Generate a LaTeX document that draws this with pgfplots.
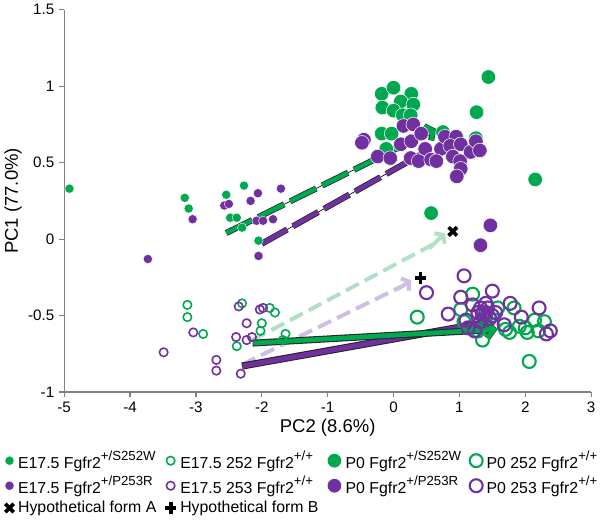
\documentclass[border=0pt]{standalone}
\usepackage{fontspec}
\setmainfont{Liberation Sans}
\usepackage{pgfplots}
\pgfplotsset{compat=1.18}
\usetikzlibrary{arrows.meta}
\definecolor{pg}{RGB}{0,168,80}
\definecolor{pp}{RGB}{112,48,160}
\definecolor{lg}{RGB}{176,224,198}
\definecolor{lp}{RGB}{206,190,228}
\definecolor{axg}{RGB}{128,128,128}
\newcommand{\sps}[1]{\raisebox{0.9ex}{\fontsize{10}{12}\selectfont #1}}
\pgfplotsset{
  leg/.style={legend image code/.code={\draw[##1] plot coordinates {(0.12cm,0cm)};}},
  sf/.style={only marks, mark=*, mark size=3.5pt, mark options={fill=#1, draw=white, line width=0.3pt}, leg},
  so/.style={only marks, mark=o, mark size=3.2pt, mark options={draw=#1, line width=1.2pt, fill=none}, leg},
  bf/.style={only marks, mark=*, mark size=5.5pt, mark options={fill=#1, draw=white, line width=0.4pt}, leg},
  bo/.style={only marks, mark=o, mark size=4.9pt, mark options={draw=#1, line width=1.6pt, fill=none}, leg},
}
\begin{document}
\begin{tikzpicture}
\begin{axis}[
  width=399pt, height=289.5pt, scale only axis,
  xmin=-5, xmax=3, ymin=-1, ymax=1.5,
  xtick={-5,-4,-3,-2,-1,0,1,2,3},
  ytick={-1,-0.5,0,0.5,1,1.5},
  axis x line*=bottom, axis y line*=left,
  axis line style={draw=axg, line width=0.9pt},
  tick style={draw=axg, line width=0.9pt},
  tick align=outside, major tick length=4pt,
  tick label style={font=\fontsize{11.5}{13}\selectfont},
  /pgf/number format/assume math mode=true,
  xlabel={PC2 (8.6\%)}, ylabel={PC1 (77.0\%)},
  label style={font=\fontsize{14}{16}\selectfont},
  xlabel style={yshift=2pt},
  ylabel style={yshift=-2pt},
  clip=false,
  legend columns=4,
  legend cell align=left,
  legend style={at={(-0.113,-0.14)}, anchor=north west, draw=none, fill=none,
    font=\fontsize{12}{14}\selectfont, row sep=0.5pt, inner xsep=0pt,
    /tikz/every odd column/.append style={column sep=1pt},
    /tikz/every even column/.append style={column sep=4.5pt}},
]
% E17.5 S252W
\addplot[sf=pg] coordinates {(-4.92,0.33) (-3.17,0.27) (-3.11,0.20) (-2.54,0.29) (-2.27,0.35) (-2.48,0.14) (-2.38,0.14) (-2.30,0.075) (-2.05,-0.01)};
\addlegendentry{E17.5 Fgfr2\sps{+/S252W}}
% E17.5 252 WT
\addplot[so=pg] coordinates {(-3.13,-0.43) (-3.13,-0.51) (-2.89,-0.62) (-2.30,-0.42) (-1.88,-0.45) (-1.80,-0.48) (-2.00,-0.55) (-2.02,-0.60) (-2.38,-0.70) (-1.64,-0.62) (-1.68,-0.66)};
\addlegendentry{E17.5 252 Fgfr2\sps{+/+}}
% P0 S252W
\addplot[bf=pg] coordinates {(1.44,1.06) (1.26,0.83) (2.15,0.39) (0.57,0.17) (-0.18,0.95) (0.00,0.99) (0.27,0.95) (0.11,0.90) (0.30,0.88) (-0.17,0.86) (0.00,0.84) (0.14,0.81) (0.26,0.81) (-0.18,0.69) (-0.03,0.69) (-0.11,0.59) (0.75,0.70) (1.25,0.66)};
\addlegendentry{P0 Fgfr2\sps{+/S252W}}
% P0 252 WT
\addplot[bo=pg] coordinates {(0.36,-0.51) (2.06,-0.80) (1.20,-0.36) (1.02,-0.46) (1.07,-0.54) (1.28,-0.60) (1.83,-0.45) (1.91,-0.57) (2.00,-0.58) (2.03,-0.61) (2.14,-0.53) (2.29,-0.54) (1.58,-0.45) (1.70,-0.59) (1.40,-0.51) (1.50,-0.56) (1.76,-0.61) (2.20,-0.60) (1.35,-0.66)};
\addlegendentry{P0 252 Fgfr2\sps{+/+}}
% E17.5 P253R
\addplot[sf=pp] coordinates {(-3.73,-0.13) (-3.05,0.13) (-2.57,0.22) (-2.50,0.23) (-2.17,0.25) (-2.06,0.30) (-1.71,0.33) (-2.08,0.12) (-1.98,0.12) (-1.83,0.13) (-2.05,-0.11)};
\addlegendentry{E17.5 Fgfr2\sps{+/P253R}}
% E17.5 253 WT
\addplot[so=pp] coordinates {(-3.49,-0.74) (-3.04,-0.61) (-2.69,-0.79) (-2.69,-0.86) (-2.32,-0.88) (-2.35,-0.44) (-2.03,-0.46) (-1.98,-0.45) (-2.23,-0.55) (-2.39,-0.64) (-2.23,-0.66) (-2.15,-0.64)};
\addlegendentry{E17.5 253 Fgfr2\sps{+/+}}
% P0 P253R
\addplot[bf=pp] coordinates {(-0.45,0.65) (-0.48,0.63) (0.15,0.74) (0.30,0.75) (0.11,0.62) (-0.24,0.54) (-0.05,0.53) (0.27,0.64) (0.26,0.53) (0.42,0.69) (0.48,0.59) (0.38,0.51) (0.57,0.52) (0.72,0.59) (0.78,0.67) (0.95,0.67) (0.86,0.61) (1.02,0.62) (0.90,0.54) (1.01,0.51) (1.02,0.46) (0.96,0.41) (1.17,0.57) (1.25,0.64) (1.31,0.58) (0.65,0.51) (1.47,0.09) (1.32,-0.04)};
\addlegendentry{P0 Fgfr2\sps{+/P253R}}
% P0 253 WT
\addplot[bo=pp] coordinates {(1.07,-0.24) (0.50,-0.35) (1.02,-0.38) (1.50,-0.34) (0.83,-0.49) (1.10,-0.53) (1.40,-0.42) (1.55,-0.48) (1.77,-0.42) (1.94,-0.51) (2.21,-0.45) (2.38,-0.60) (2.32,-0.62) (1.43,-0.45) (1.32,-0.54) (1.68,-0.56) (1.23,-0.60) (1.28,-0.48) (1.35,-0.49) (1.46,-0.52) (1.20,-0.43) (1.13,-0.58) (1.40,-0.48) (1.50,-0.50) (1.32,-0.45)};
\addlegendentry{P0 253 Fgfr2\sps{+/+}}
% light dashed arrows
\addplot[forget plot, draw=lg, line width=3pt, dash pattern=on 11pt off 5pt] coordinates {(-2.14,-0.66) (0.62,-0.03)};
\addplot[forget plot, draw=lg, line width=3pt, -{Straight Barb[length=4pt,width=11pt]}] coordinates {(0.55,-0.06) (0.78,0.04)};
\addplot[forget plot, draw=lp, line width=3pt, dash pattern=on 11pt off 5pt] coordinates {(-2.30,-0.82) (0.12,-0.31)};
\addplot[forget plot, draw=lp, line width=3pt, -{Straight Barb[length=4pt,width=11pt]}] coordinates {(0.05,-0.33) (0.27,-0.27)};
% solid arrows
\addplot[forget plot, draw=black!85, line width=5.4pt, -{Straight Barb[length=5pt,width=12pt]}] coordinates {(-2.30,-0.83) (1.47,-0.54)};
\addplot[forget plot, draw=pp, line width=3.8pt, -{Straight Barb[length=5pt,width=12pt]}] coordinates {(-2.29,-0.83) (1.46,-0.54)};
\addplot[forget plot, draw=black!85, line width=5.2pt, -{Straight Barb[length=5pt,width=12pt]}] coordinates {(-2.14,-0.68) (1.58,-0.59)};
\addplot[forget plot, draw=pg, line width=3.6pt, -{Straight Barb[length=5pt,width=12pt]}] coordinates {(-2.13,-0.68) (1.57,-0.59)};
% dashed outlined arrows
\addplot[forget plot, black, line width=0.5pt] coordinates {(-2.54,0.04) (0.65,0.72)};
\addplot[forget plot, draw=black!85, line width=0.6pt, double=pg, double distance=3.4pt, dash pattern=on 22pt off 5pt] coordinates {(-2.54,0.04) (0.40,0.667)};
\addplot[forget plot, draw=black!85, line width=4.6pt, -{Straight Barb[length=4.5pt,width=12pt]}] coordinates {(0.30,0.645) (0.65,0.72)};
\addplot[forget plot, draw=pg, line width=3.4pt, -{Straight Barb[length=4.5pt,width=12pt]}] coordinates {(0.31,0.647) (0.64,0.718)};
\addplot[forget plot, black, line width=0.5pt] coordinates {(-2.00,-0.03) (0.57,0.59)};
\addplot[forget plot, draw=black!85, line width=0.6pt, double=pp, double distance=3.4pt, dash pattern=on 22pt off 5pt] coordinates {(-2.00,-0.03) (0.32,0.53)};
\addplot[forget plot, draw=black!85, line width=4.6pt, -{Straight Barb[length=4.5pt,width=12pt]}] coordinates {(0.22,0.505) (0.57,0.59)};
\addplot[forget plot, draw=pp, line width=3.4pt, -{Straight Barb[length=4.5pt,width=12pt]}] coordinates {(0.23,0.507) (0.56,0.588)};
% hypothetical forms
\addplot[only marks, mark=x, mark size=4.5pt, mark options={black, line width=2.8pt}, leg] coordinates {(0.90,0.05)};
\addlegendentry{Hypothetical form A}
\addplot[only marks, mark=+, mark size=4.3pt, mark options={black, line width=2.8pt}, leg] coordinates {(0.41,-0.255)};
\addlegendentry{Hypothetical form B}
\end{axis}
\end{tikzpicture}
\end{document}
